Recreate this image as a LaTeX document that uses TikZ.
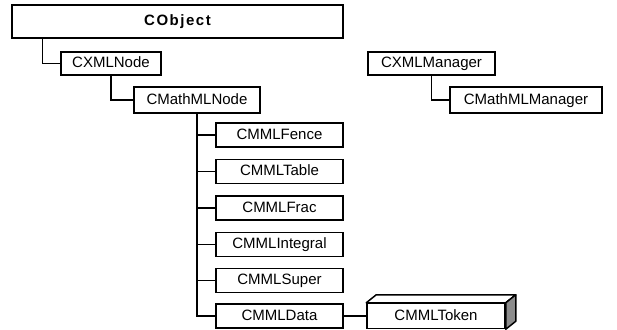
\documentclass[tikz,border=0pt]{standalone}
\usepackage{fontspec}
\setmainfont{Liberation Sans}
\newfontfamily\spacedfont[LetterSpace=10]{Liberation Sans}
\begin{document}
\begin{tikzpicture}[x=1pt,y=-1pt,
  classbox/.style={draw=black, line width=1.5pt, fill=white, inner sep=0pt,
    font=\fontsize{15}{18}\selectfont, text height=11pt, text depth=3pt},
  childbox/.style={classbox, minimum width=127pt, minimum height=24pt},
  link/.style={draw=black, line width=1.4pt}
]
\useasboundingbox (0,0) rectangle (617,329);

% root class
\node[classbox, minimum width=331pt, minimum height=33pt,
      font=\spacedfont\bfseries\fontsize{15}{18}\selectfont] (obj) at (177.5,21.5) {CObject};

% node hierarchy
\node[classbox, minimum width=100pt, minimum height=23pt] (xmlnode) at (111,63.5) {CXMLNode};
\node[classbox, minimum width=126pt, minimum height=26pt] (mathnode) at (197,100) {CMathMLNode};

\node[childbox] (fence)    at (279.5,135)   {CMMLFence};
\node[childbox] (table)    at (279.5,171.5) {CMMLTable};
\node[childbox] (frac)     at (279.5,208)   {CMMLFrac};
\node[childbox] (integral) at (279.5,244.5) {CMMLIntegral};
\node[childbox] (super)    at (279.5,280.5) {CMMLSuper};
\node[childbox] (data)     at (279.5,316)   {CMMLData};

% token drawn as a block
\node[classbox, minimum width=138pt, minimum height=25pt] (token) at (436,316) {CMMLToken};
\draw[line width=1.5pt, line join=round, fill=white]
  (token.north west) -- ++(10,-8) -- ([shift={(10,-8)}]token.north east) -- (token.north east) -- cycle;
\draw[line width=1.5pt, line join=round, fill=black!45]
  (token.north east) -- ++(10,-8) -- ([shift={(10,-8)}]token.south east) -- (token.south east) -- cycle;

% manager hierarchy
\node[classbox, minimum width=127pt, minimum height=23pt] (xmlmgr) at (431.5,63.5) {CXMLManager};
\node[classbox, minimum width=152pt, minimum height=26pt] (mathmgr) at (526,100) {CMathMLManager};

% inheritance connectors
\draw[link] ([xshift=31pt]obj.south west) |- (xmlnode.west);
\draw[link] (xmlnode.south) |- (mathnode.west);
\foreach \c in {fence,table,frac,integral,super,data}
  \draw[link] (mathnode.south) |- (\c.west);
\draw[link] (data.east) -- (token.west);
\draw[link] (xmlmgr.south) |- (mathmgr.west);
\end{tikzpicture}
\end{document}
